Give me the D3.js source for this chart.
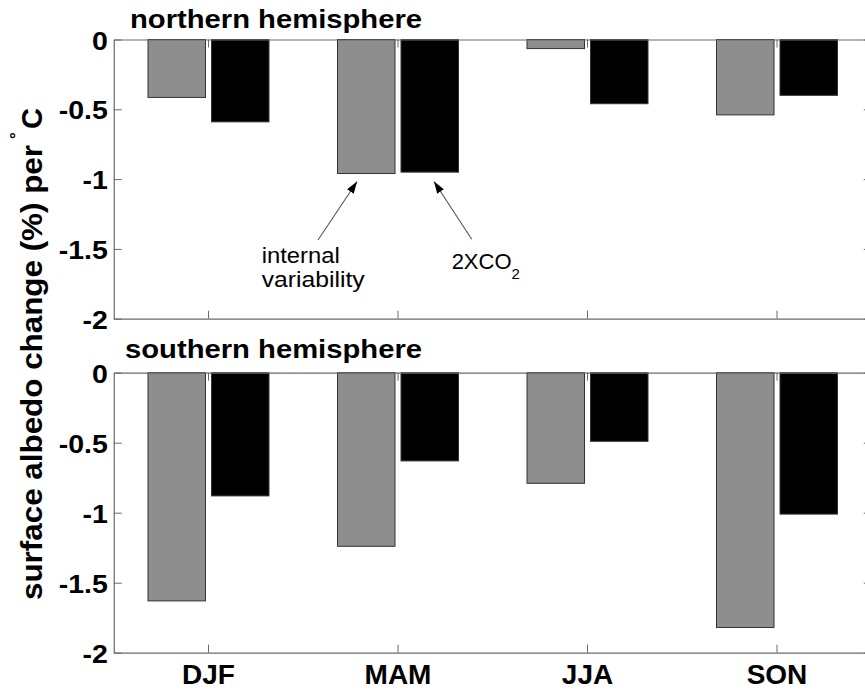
<!DOCTYPE html>
<html>
<head>
<meta charset="utf-8">
<script src="https://cdn.jsdelivr.net/npm/d3@7"></script>
<style>
  html, body { margin: 0; padding: 0; background: #fff; }
  svg { display: block; }
  text { font-family: "Liberation Sans", Arial, Helvetica, sans-serif; fill: #000; }
</style>
</head>
<body>
<svg id="chart" width="865" height="691"></svg>
<script>
// ---- data ----
const categories = ["DJF", "MAM", "JJA", "SON"];
const seriesNames = ["internal variability", "2XCO2"];
const northInternal = [-0.415, -0.96, -0.065, -0.54];
const north2xCO2   = [-0.59, -0.95, -0.46, -0.40];
const southInternal = [-1.63, -1.24, -0.79, -1.82];
const south2xCO2   = [-0.88, -0.63, -0.49, -1.01];
const yTickValues = [0, -0.5, -1, -1.5, -2];
const panelTitles = ["northern hemisphere", "southern hemisphere"];
const yLabelMain = "surface albedo change (%) per";

// ---- layout ----
const W = 865, H = 691;
const xLeft = 113.75, xRight = 871.75;
const panels = [
  { top: 39.5, bottom: 318.7, title: panelTitles[0], titleX: 130, titleY: 28.3, titleLen: 292, a: northInternal, b: north2xCO2, labels: false },
  { top: 372.7, bottom: 652.7, title: panelTitles[1], titleX: 125, titleY: 358.3, titleLen: 297, a: southInternal, b: south2xCO2, labels: true }
];
const colors = ["#8e8e8e", "#000000"];
const axisColor = "#6a6a6a";

const svg = d3.select("#chart");

const x = d3.scaleBand()
  .domain(categories)
  .range([xLeft, xRight])
  .paddingInner(0.3615)
  .paddingOuter(0.3615 / 2);

const xSub = d3.scaleBand()
  .domain(seriesNames)
  .range([0, x.bandwidth()])
  .paddingInner(0.0945);

svg.append("defs").append("marker")
  .attr("id", "arrow")
  .attr("viewBox", "0 0 12 8")
  .attr("refX", 12).attr("refY", 4)
  .attr("markerWidth", 12).attr("markerHeight", 8)
  .attr("markerUnits", "userSpaceOnUse")
  .attr("orient", "auto")
  .append("path").attr("d", "M0,0 L12,4 L0,8 Z").attr("fill", "#000");

panels.forEach((p, pi) => {
  const y = d3.scaleLinear().domain([-2, 0]).range([p.bottom, p.top]);
  const g = svg.append("g");

  // bars
  [p.a, p.b].forEach((vals, si) => {
    g.selectAll(null)
      .data(vals.map((v, i) => ({ cat: categories[i], v })))
      .enter().append("rect")
      .attr("x", d => x(d.cat) + xSub(seriesNames[si]))
      .attr("y", y(0))
      .attr("width", xSub.bandwidth())
      .attr("height", d => y(d.v) - y(0))
      .attr("fill", colors[si])
      .attr("stroke", "#333")
      .attr("stroke-width", 1);
  });

  // axes
  const fmt = d => (d === 0 ? "0" : String(d));
  const left = g.append("g").attr("transform", `translate(${xLeft},0)`)
    .call(d3.axisLeft(y).tickValues(yTickValues).tickSize(-8).tickSizeOuter(0).tickFormat(fmt));
  left.selectAll("text")
    .attr("x", -6 / 1.14)
    .attr("dy", "0.38em")
    .attr("transform", "scale(1.14,1)")
    .style("font-size", "25px").style("font-weight", "bold")
    .style("font-family", "'Liberation Sans', Arial, sans-serif");

  const right = g.append("g").attr("transform", `translate(${xRight},0)`)
    .call(d3.axisRight(y).tickValues(yTickValues).tickSize(-8).tickSizeOuter(0).tickFormat(""));

  const top = g.append("g").attr("transform", `translate(0,${p.top})`)
    .call(d3.axisTop(x).tickSize(-8).tickSizeOuter(0).tickFormat(""));

  const bottom = g.append("g").attr("transform", `translate(0,${p.bottom})`)
    .call(d3.axisBottom(x).tickSize(-8).tickSizeOuter(0).tickFormat(p.labels ? (d => d) : ""));
  bottom.selectAll("text")
    .attr("y", 31.6).attr("dy", 0)
    .style("font-size", "28px").style("font-weight", "bold")
    .style("font-family", "'Liberation Sans', Arial, sans-serif");

  [left, right, top, bottom].forEach(ax => {
    ax.selectAll("path.domain").attr("stroke", axisColor).attr("stroke-width", 1.2);
    ax.selectAll(".tick line").attr("stroke", axisColor).attr("stroke-width", 1);
  });

  // title
  svg.append("text")
    .attr("x", p.titleX).attr("y", p.titleY)
    .attr("textLength", p.titleLen).attr("lengthAdjust", "spacingAndGlyphs")
    .style("font-size", "26px").style("font-weight", "bold")
    .text(p.title);

  p.y = y;
});

// ---- annotations (top panel, MAM group) ----
const yN = panels[0].y;
const xv = d3.scaleLinear().domain([0.5, 4.5]).range([xLeft, xRight]);
const arrows = [
  { from: [1.578, -1.436], to: [1.784, -1.017] },
  { from: [2.389, -1.431], to: [2.190, -1.017] }
];
arrows.forEach(a => {
  svg.append("line")
    .attr("x1", xv(a.from[0])).attr("y1", yN(a.from[1]))
    .attr("x2", xv(a.to[0])).attr("y2", yN(a.to[1]))
    .attr("stroke", "#555").attr("stroke-width", 1.1)
    .attr("marker-end", "url(#arrow)");
});
svg.append("text").attr("x", xv(1.281)).attr("y", yN(-1.603))
  .attr("textLength", 78).attr("lengthAdjust", "spacingAndGlyphs")
  .style("font-size", "22px").text("internal");
svg.append("text").attr("x", xv(1.281)).attr("y", yN(-1.771))
  .attr("textLength", 103).attr("lengthAdjust", "spacingAndGlyphs")
  .style("font-size", "22px").text("variability");
const co2 = svg.append("text").attr("x", xv(2.283)).attr("y", yN(-1.646))
  .style("font-size", "22px");
co2.append("tspan").text("2XCO");
co2.append("tspan").attr("dy", 10).style("font-size", "15px").text("2");

// ---- y label ----
const yl = svg.append("g").attr("transform", "translate(41.7,600) rotate(-90)");
yl.append("text").attr("x", 0).attr("y", 0)
  .attr("textLength", 455).attr("lengthAdjust", "spacingAndGlyphs")
  .style("font-size", "29px").style("font-weight", "bold")
  .text(yLabelMain);
yl.append("text").attr("x", 461).attr("y", -20)
  .style("font-size", "17px").style("font-weight", "bold").text("°");
yl.append("text").attr("x", 471).attr("y", 0)
  .style("font-size", "29px").style("font-weight", "bold").text("C");
</script>
</body>
</html>
